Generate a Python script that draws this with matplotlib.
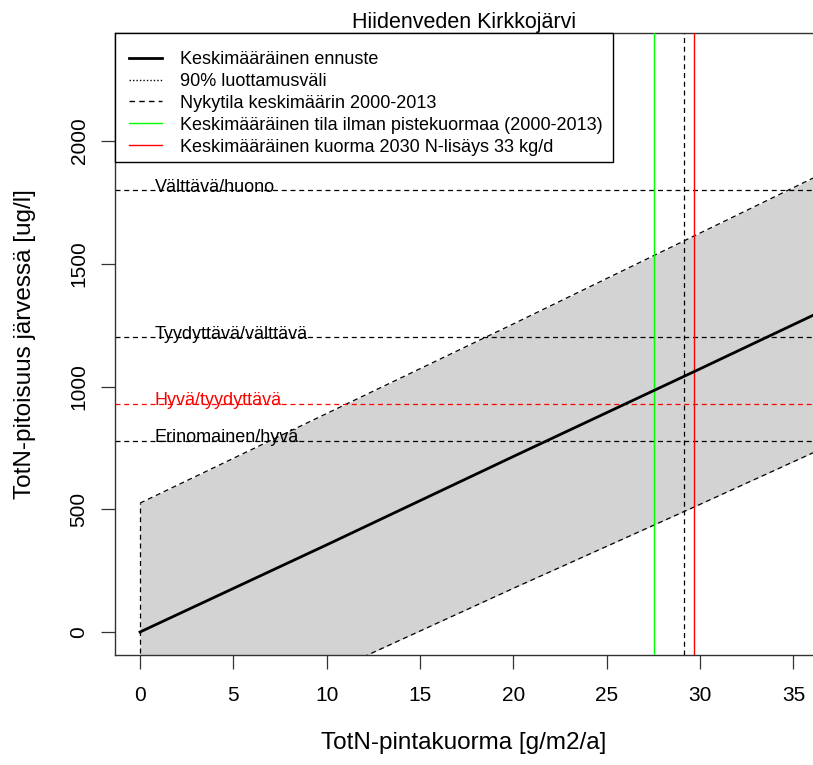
import matplotlib
matplotlib.use("Agg")
import matplotlib.pyplot as plt
from matplotlib.lines import Line2D
from matplotlib.patches import Rectangle

plt.rcParams['font.family'] = ['Liberation Sans', 'DejaVu Sans']

# Data
x_pts = [0, 10, 20, 30, 36.05]
mean_pts = [0, 355, 715, 1072, 1290]
upper_pts = [525, 890, 1255, 1625, 1849]
lower_pts = [-513, -170, 178, 520, 730]

class_names = ["Välttävä/huono", "Tyydyttävä/välttävä", "Hyvä/tyydyttävä", "Erinomainen/hyvä"]
class_limits = [1800, 1200, 930, 780]
class_colors = ["black", "black", "red", "black"]

x_nykytila = 29.16
x_ilman_piste = 27.55
x_2030 = 29.69

xticks = [0, 5, 10, 15, 20, 25, 30, 35]
yticks = [0, 500, 1000, 1500, 2000]

legend_labels = ["Keskimääräinen ennuste", "90% luottamusväli",
                 "Nykytila keskimäärin 2000-2013",
                 "Keskimääräinen tila ilman pistekuormaa (2000-2013)",
                 "Keskimääräinen kuorma 2030 N-lisäys 33 kg/d"]

W, H = 813, 765
fig = plt.figure(figsize=(W / 100, H / 100), dpi=100)
ax = fig.add_axes([115 / W, 1 - 655 / H, 1 - 115 / W, (655 - 33) / H])
ax.set_xlim(-1.34, 36.05)
ax.set_ylim(-93.7, 2440)

dash = (0, (4, 3))
# confidence band
ax.fill_between(x_pts, lower_pts, upper_pts, color='#D3D3D3', lw=0, zorder=1)
ax.plot(x_pts, upper_pts, color='black', ls=dash, lw=0.9, zorder=2)
ax.plot(x_pts, lower_pts, color='black', ls=dash, lw=0.9, zorder=2)
ax.plot([x_pts[0], x_pts[0]], [lower_pts[0], upper_pts[0]], color='black',
        ls=dash, lw=0.9, zorder=2)

# class limits
for name, lim, col in zip(class_names, class_limits, class_colors):
    ax.axhline(lim, color=col, ls=dash, lw=0.9, zorder=2)
    ax.text(0.8, lim - 6, name, color=col, fontsize=13, va='baseline',
            ha='left', zorder=3)

# mean forecast
ax.plot(x_pts, mean_pts, color='black', lw=2.0, zorder=4)

# vertical lines
ax.axvline(x_ilman_piste, color='#00FF00', lw=1.0, zorder=3)
ax.axvline(x_nykytila, color='black', ls=dash, lw=0.9, zorder=3)
ax.axvline(x_2030, color='red', lw=1.0, zorder=3)

ax.set_xticks(xticks)
ax.set_yticks(yticks)
ax.set_xticklabels([str(v) for v in xticks], fontsize=15)
ax.set_yticklabels([str(v) for v in yticks], fontsize=15, rotation=90, va='center')
ax.tick_params(axis='both', direction='out', length=10, width=0.9, colors='#333333',
               labelcolor='black')
ax.tick_params(axis='x', pad=12)
ax.tick_params(axis='y', pad=9)
for s in ['left', 'bottom', 'top']:
    ax.spines[s].set_linewidth(1.0)
    ax.spines[s].set_color('#333333')
ax.spines['right'].set_visible(False)

ax.set_xlabel("TotN-pintakuorma [g/m2/a]", fontsize=17.5, labelpad=20)
ax.set_ylabel("TotN-pitoisuus järvessä [ug/l]", fontsize=17.5, labelpad=24)
ax.set_title("Hiidenveden Kirkkojärvi", fontsize=15.5, pad=3)

# legend frame drawn as a rectangle (pixel coords)
fig.patches.append(Rectangle((115 / W, 1 - 162 / H), (613 - 115) / W, (162 - 33) / H,
                             transform=fig.transFigure, facecolor='white',
                             edgecolor='black', lw=1.0, zorder=9))

handles = [Line2D([], [], color='black', lw=2.0),
           Line2D([], [], color='black', lw=1.0, ls=(0, (1, 1.5))),
           Line2D([], [], color='black', lw=1.0, ls=dash),
           Line2D([], [], color='#00FF00', lw=1.0),
           Line2D([], [], color='red', lw=1.0)]
leg = fig.legend(handles, legend_labels, loc='upper left',
                 bbox_to_anchor=(129 / W, 1 - 51 / H), bbox_transform=fig.transFigure,
                 fontsize=13, frameon=False, handlelength=1.83,
                 handletextpad=1.0, borderpad=0, labelspacing=0.27,
                 borderaxespad=0)
leg.set_zorder(10)

fig.savefig("out.png", dpi=100)
